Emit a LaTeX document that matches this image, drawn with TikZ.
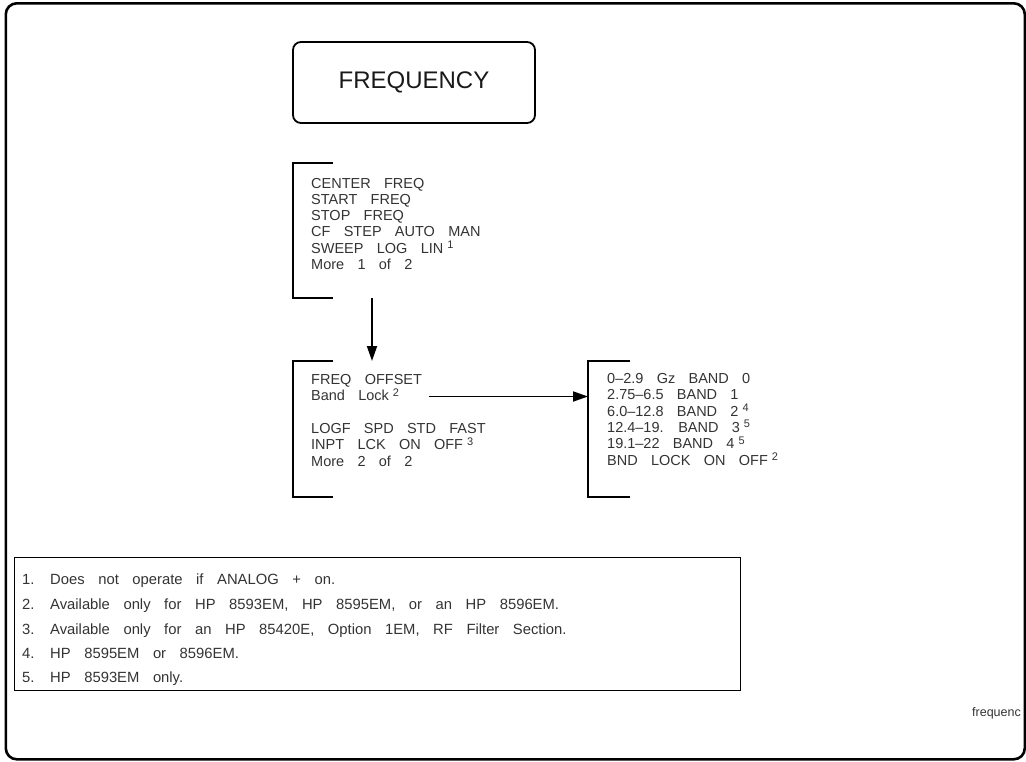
\documentclass[tikz,border=0pt]{standalone}
\usepackage{fontspec}
\setmainfont[WordSpace=3.3]{Liberation Sans}
\usetikzlibrary{arrows.meta}
\newcommand{\fn}[1]{\hspace{4pt}\raisebox{4.5pt}{\fontsize{11}{11}\selectfont #1}}
\begin{document}
\begin{tikzpicture}[x=1pt,y=-1pt,
  txt/.style={anchor=base west, inner sep=0pt, text=black!80, font=\fontsize{14.5}{14.5}\selectfont},
  note/.style={txt, font=\fontsize{14.8}{14.8}\selectfont},
  brk/.style={line width=2pt, black},
  region/.style={draw=none, inner sep=0pt, anchor=north west},
  arr/.style={line width=1.8pt, -{Triangle[length=15pt,width=10pt]}},
  frame/.style={draw, line width=2.6pt, rounded corners=11pt, inner sep=0pt, anchor=north west},
  notebox/.style={draw, line width=1.4pt, anchor=north west, inner sep=0pt},
  titlebox/.style={draw, line width=1.8pt, rounded corners=8pt, inner sep=0pt,
     font=\fontsize{24}{24}\selectfont, text=black!90}]
\useasboundingbox (0,0) rectangle (1026,761);
% outer frame
\node[frame, minimum width=1019pt, minimum height=756pt] (outer) at (4.5,2) {};

% title
\node[titlebox, minimum width=242pt, minimum height=81pt] (title) at (414,82.5) {FREQUENCY};

% menu 1
\node[region, minimum width=40pt, minimum height=135pt] (m1) at (293,163) {};
\draw[brk] ([xshift=40pt]m1.north west) -- (m1.north west) -- (m1.south west) -- ([xshift=40pt]m1.south west);
\node[txt] (a1) at (311,188) {CENTER FREQ};
\node[txt] (a2) at (311,204.3) {START FREQ};
\node[txt] (a3) at (311,220.6) {STOP FREQ};
\node[txt] (a4) at (311,236.9) {CF STEP AUTO MAN};
\node[txt] (a5) at (311,253.2) {SWEEP LOG LIN\fn{1}};
\node[txt] (a6) at (311,269.5) {More 1 of 2};

% menu 2
\node[region, minimum width=40pt, minimum height=136pt] (m2) at (293,361) {};
\draw[brk] ([xshift=40pt]m2.north west) -- (m2.north west) -- (m2.south west) -- ([xshift=40pt]m2.south west);
\node[txt] (b1) at (311,384.5) {FREQ OFFSET};
\node[txt] (b2) at (311,400.8) {Band Lock\fn{2}};
\node[txt] (b4) at (311,433.4) {LOGF SPD STD FAST};
\node[txt] (b5) at (311,449.7) {INPT LCK ON OFF\fn{3}};
\node[txt] (b6) at (311,466) {More 2 of 2};

% menu 3
\node[region, minimum width=42pt, minimum height=136pt] (m3) at (588,361) {};
\draw[brk] ([xshift=42pt]m3.north west) -- (m3.north west) -- (m3.south west) -- ([xshift=42pt]m3.south west);
\node[txt] (c1) at (607,383.5) {0–2.9 Gz BAND 0};
\node[txt] (c2) at (607,399.8) {2.75–6.5 BAND 1};
\node[txt] (c3) at (607,416.1) {6.0–12.8 BAND 2\fn{4}};
\node[txt] (c4) at (607,432.4) {12.4–19. BAND 3\fn{5}};
\node[txt] (c5) at (607,448.7) {19.1–22 BAND 4\fn{5}};
\node[txt] (c6) at (607,465) {BND LOCK ON OFF\fn{2}};

% connectors
\coordinate (ax) at (372,0);
\draw[arr] (ax |- m1.south) -- (ax |- m2.north);
\coordinate (bstart) at (429,396.5);
\draw[arr] (bstart) -- (bstart -| m3.west);

% notes
\node[notebox, minimum width=726pt, minimum height=133pt] (notes) at (14,557) {};
\node[note] (n1) at (22,584.5) {1.};
\node[note] at (50,584.5) {Does not operate if ANALOG + on.};
\node[note] (n2) at (22,609.5) {2.};
\node[note] at (50,609.5) {Available only for HP 8593EM, HP 8595EM, or an HP 8596EM.};
\node[note] (n3) at (22,634.5) {3.};
\node[note] at (50,634.5) {Available only for an HP 85420E, Option 1EM, RF Filter Section.};
\node[note] (n4) at (22,658.5) {4.};
\node[note] at (50,658.5) {HP 8595EM or 8596EM.};
\node[note] (n5) at (22,682.5) {5.};
\node[note] at (50,682.5) {HP 8593EM only.};

\node[txt, anchor=base east, font=\fontsize{12.5}{12.5}\selectfont] (tag) at (1021,716) {frequenc};
\end{tikzpicture}
\end{document}
